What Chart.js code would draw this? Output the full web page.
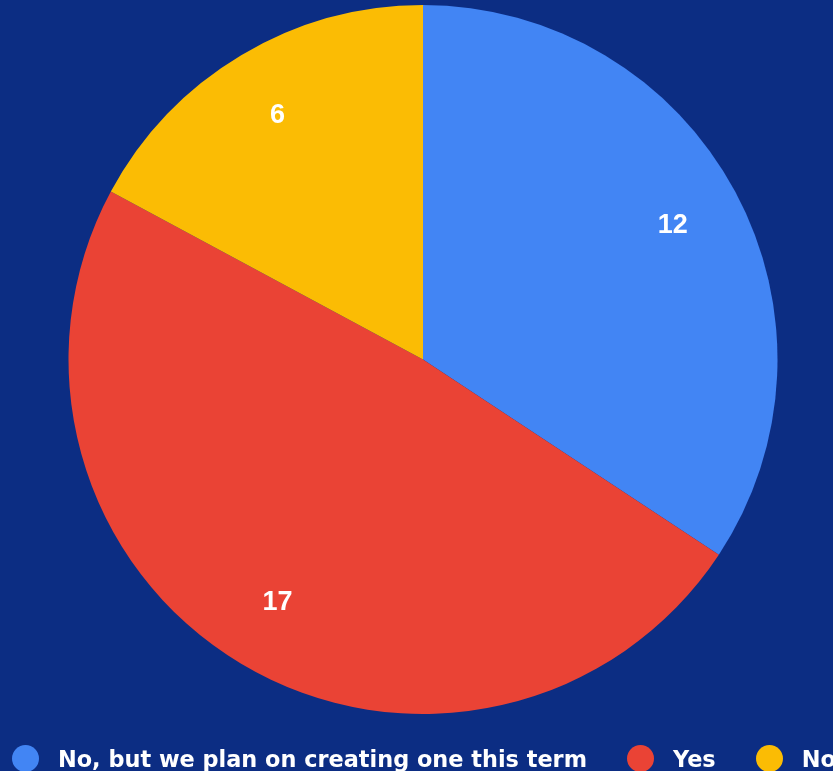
<!DOCTYPE html>
<html>
<head>
<meta charset="utf-8">
<script src="https://cdn.jsdelivr.net/npm/chart.js@4.4.1/dist/chart.umd.min.js"></script>
<style>
  html, body {
    margin: 0;
    padding: 0;
    width: 833px;
    height: 771px;
    overflow: hidden;
    background: #0c2d83;
  }
  #wrap {
    position: relative;
    width: 833px;
    height: 771px;
  }
  #legend {
    position: absolute;
    left: 12px;
    top: 745px;
    display: flex;
    align-items: center;
    white-space: nowrap;
    font-family: "DejaVu Sans", sans-serif;
    font-weight: bold;
    font-size: 22.4px;
    color: #fff;
  }
  #legend .item {
    display: flex;
    align-items: center;
    margin-right: 40px;
  }
  #legend .dot {
    width: 27px;
    height: 27px;
    border-radius: 50%;
    margin-right: 19px;
    flex: none;
  }
</style>
</head>
<body>
<div id="wrap">
  <canvas id="pie" width="833" height="771"></canvas>
  <div id="legend"></div>
</div>
<script>
const answers = ['No, but we plan on creating one this term', 'Yes', 'No'];
const counts = [12, 17, 6];
const sliceColors = ['#4285f4', '#ea4335', '#fbbc04'];

// Writes each slice's count inside the slice, out towards the rim
const sliceLabels = {
    id: 'sliceLabels',
    afterDatasetsDraw(chart) {
        const { ctx } = chart;
        const meta = chart.getDatasetMeta(0);
        ctx.save();
        ctx.fillStyle = '#fff';
        ctx.font = 'bold 27px "Liberation Sans", Arial, sans-serif';
        ctx.textAlign = 'center';
        ctx.textBaseline = 'middle';
        meta.data.forEach((arc, i) => {
            const { x, y, startAngle, endAngle, outerRadius } =
                arc.getProps(['x', 'y', 'startAngle', 'endAngle', 'outerRadius'], true);
            const mid = (startAngle + endAngle) / 2;
            const r = outerRadius * 0.8;
            ctx.fillText(String(counts[i]), x + Math.cos(mid) * r, y + Math.sin(mid) * r);
        });
        ctx.restore();
    }
};

const chart = new Chart(document.getElementById('pie'), {
    type: 'pie',
    data: {
        labels: answers,
        datasets: [{
            data: counts,
            backgroundColor: sliceColors,
            borderWidth: 0,
        }]
    },
    options: {
        responsive: false,
        animation: false,
        layout: {
            padding: { top: 5, bottom: 57, left: 13, right: 0 }
        },
        plugins: {
            legend: { display: false },
            tooltip: { enabled: false },
        },
    },
    plugins: [sliceLabels],
});

// Legend row under the pie, built from the chart's own label items
const legendEl = document.getElementById('legend');
Chart.overrides.pie.plugins.legend.labels.generateLabels(chart).forEach(item => {
    const row = document.createElement('div');
    row.className = 'item';
    const dot = document.createElement('span');
    dot.className = 'dot';
    dot.style.background = item.fillStyle;
    const text = document.createElement('span');
    text.textContent = item.text;
    row.appendChild(dot);
    row.appendChild(text);
    legendEl.appendChild(row);
});
</script>
</body>
</html>
